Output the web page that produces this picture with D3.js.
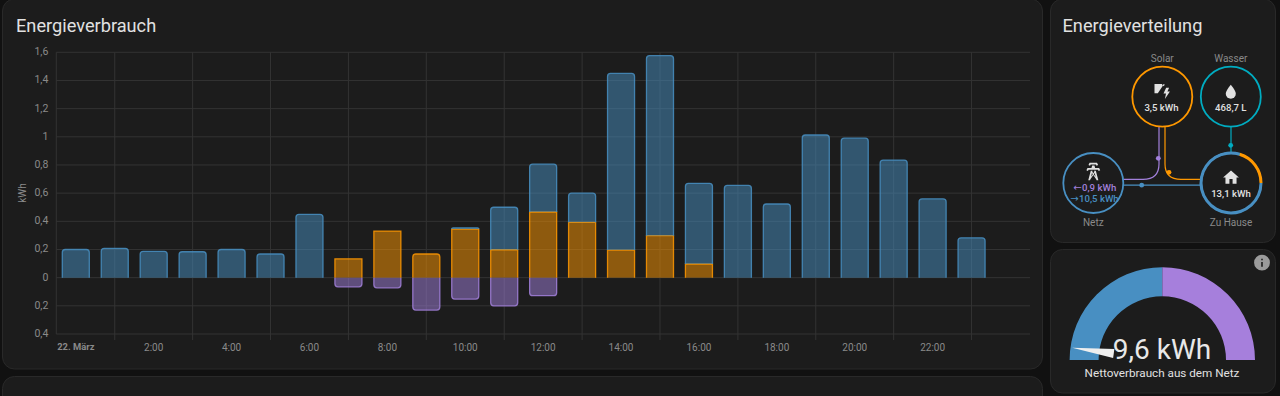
<!DOCTYPE html>
<html>
<head>
<meta charset="utf-8">
<script src="https://cdn.jsdelivr.net/npm/d3@7"></script>
<style>
html, body { margin: 0; padding: 0; background: #111; overflow: hidden; }
svg { display: block; }
text { font-family: Roboto, sans-serif; }
</style>
</head>
<body>
<div id="chart"></div>
<script>
// hours of the day, one bar each (24 is the empty slot at the right edge)
var hours = d3.range(0, 25);
var hourLabels = ["22. März", "2:00", "4:00", "6:00", "8:00", "10:00", "12:00", "14:00", "16:00", "18:00", "20:00", "22:00"];

// kWh per hour
var solar = [0, 0, 0, 0, 0, 0, 0, 0.134, 0.331, 0.168, 0.345, 0.198, 0.466, 0.393, 0.196, 0.298, 0.097, 0, 0, 0, 0, 0, 0, 0];
var grid = [0.2, 0.208, 0.187, 0.184, 0.2, 0.168, 0.45, 0, 0, 0, 0.009, 0.302, 0.34, 0.207, 1.254, 1.278, 0.573, 0.655, 0.523, 1.013, 0.99, 0.835, 0.56, 0.283];
var returned = [0, 0, 0, 0, 0, 0, 0, 0.065, 0.072, 0.23, 0.152, 0.2, 0.128, 0, 0, 0, 0, 0, 0, 0, 0, 0, 0, 0];

// these two solar bars have square tops in the picture
var squareTopHours = [7, 8];

var yTicks = [1.6, 1.4, 1.2, 1, 0.8, 0.6, 0.4, 0.2, 0, -0.2, -0.4];

// gauge
var gaugeStops = [10.5, 0, -10.5];
var gaugeValue = 9.6;

var colors = {
    page: "#111111",
    card: "#1c1c1c",
    cardBorder: "#292929",
    grid: "#333333",
    tick: "#8a8a8a",
    title: "#e1e1e1",
    blue: "#488fc2",
    orange: "#ff9800",
    purple: "#a280db",
    teal: "#00acc1"
};

var svg = d3.select("#chart").append("svg")
    .attr("width", 1280)
    .attr("height", 396);

// cards
var cards = [
    { x: 2.5, y: -1, w: 1040, h: 370 },
    { x: 2.5, y: 376.5, w: 1040, h: 60 },
    { x: 1050.5, y: -1, w: 225, h: 243.5 },
    { x: 1050.5, y: 249.5, w: 225, h: 143.5 }
];

svg.append("g").selectAll("rect")
    .data(cards)
    .enter()
    .append("rect")
    .attr("x", function (d) { return d.x; })
    .attr("y", function (d) { return d.y; })
    .attr("width", function (d) { return d.w; })
    .attr("height", function (d) { return d.h; })
    .attr("rx", 12)
    .attr("fill", colors.card)
    .attr("stroke", colors.cardBorder);

svg.append("text")
    .attr("x", 16)
    .attr("y", 32)
    .attr("font-size", 18.2)
    .attr("fill", colors.title)
    .text("Energieverbrauch");

// scales
var scaleX = d3.scaleBand().domain(hours).range([56.3, 1030]).paddingInner(0.273).paddingOuter(0.137);
var scaleY = d3.scaleLinear().domain([-0.4, 1.6]).range([334, 52.3]);

// grid lines
var plot = svg.append("g");

plot.append("g").selectAll("line")
    .data(yTicks)
    .enter()
    .append("line")
    .attr("x1", scaleX.range()[0])
    .attr("x2", scaleX.range()[1])
    .attr("y1", function (d) { return scaleY(d); })
    .attr("y2", function (d) { return scaleY(d); })
    .attr("stroke", colors.grid);

// vertical lines sit on the odd hours
var oddHours = hours.filter(function (d) { return d % 2 === 1 && d < 24; });

plot.append("g").selectAll("line")
    .data(oddHours)
    .enter()
    .append("line")
    .attr("x1", function (d) { return scaleX(d) + scaleX.bandwidth() / 2; })
    .attr("x2", function (d) { return scaleX(d) + scaleX.bandwidth() / 2; })
    .attr("y1", scaleY(1.6))
    .attr("y2", 340)
    .attr("stroke", colors.grid);

plot.append("line")
    .attr("x1", scaleX.range()[0])
    .attr("x2", scaleX.range()[0])
    .attr("y1", scaleY(1.6))
    .attr("y2", scaleY(-0.4))
    .attr("stroke", colors.grid);

// axes
var axisY = d3.axisLeft(scaleY)
    .tickValues(yTicks)
    .tickSize(0)
    .tickPadding(8)
    .tickFormat(function (d) { return String(Math.abs(d)).replace(".", ","); });

var axisX = d3.axisBottom(scaleX)
    .tickValues(hours.filter(function (d) { return d % 2 === 0 && d < 24; }))
    .tickSize(0)
    .tickPadding(9.5)
    .tickFormat(function (d) { return hourLabels[d / 2]; });

var gY = svg.append("g").attr("transform", "translate(" + scaleX.range()[0] + ",-1)").call(axisY);
var gX = svg.append("g").attr("transform", "translate(0," + scaleY(-0.4) + ")").call(axisX);

gY.select(".domain").remove();
gX.select(".domain").remove();

svg.selectAll(".tick text")
    .attr("font-family", "Roboto, sans-serif")
    .attr("fill", colors.tick);

gY.selectAll(".tick text").attr("font-size", 10.5);

gX.selectAll(".tick text")
    .attr("font-size", function (d) { return d === 0 ? 9.4 : 10; })
    .attr("font-weight", function (d) { return d === 0 ? 700 : 400; });

svg.append("text")
    .attr("transform", "translate(26,193) rotate(-90)")
    .attr("text-anchor", "middle")
    .attr("font-size", 10)
    .attr("fill", colors.tick)
    .text("kWh");

// bar shape: square at the base, rounded at the far end, no line along the base
function barPath(x, w, base, end, rounded) {
    var p = d3.path();
    var inset = 0.65;
    var dir = end < base ? 1 : -1;
    var r = rounded ? Math.min(3, Math.abs(base - end)) : 0;
    var left = x + inset;
    var right = x + w - inset;
    p.moveTo(left, base);
    p.lineTo(left, end + dir * r);
    if (r > 0) p.quadraticCurveTo(left, end, left + r, end);
    p.lineTo(right - r, end);
    if (r > 0) p.quadraticCurveTo(right, end, right, end + dir * r);
    p.lineTo(right, base);
    return p.toString();
}

// stacked bars
var table = hours.slice(0, 24).map(function (h, i) {
    return { hour: h, solar: solar[i], grid: grid[i] };
});

var stacked = d3.stack().keys(["solar", "grid"])(table);
var stackColors = { solar: colors.orange, grid: colors.blue };

stacked.forEach(function (layer) {
    plot.append("g").selectAll("path")
        .data(layer.filter(function (d) { return d[1] > d[0]; }))
        .enter()
        .append("path")
        .attr("d", function (d) {
            var isTop = d[1] === d.data.solar + d.data.grid && squareTopHours.indexOf(d.data.hour) < 0;
            return barPath(scaleX(d.data.hour), scaleX.bandwidth(), scaleY(d[0]), scaleY(d[1]), isTop);
        })
        .attr("fill", stackColors[layer.key])
        .attr("fill-opacity", 0.5)
        .attr("stroke", stackColors[layer.key])
        .attr("stroke-opacity", 0.85)
        .attr("stroke-width", 1.3);
});

plot.append("g").selectAll("path")
    .data(returned.filter(function (d) { return d > 0; }))
    .enter()
    .append("path")
    .attr("d", function (d) {
        var h = returned.indexOf(d);
        return barPath(scaleX(h), scaleX.bandwidth(), scaleY(0), scaleY(-d), true);
    })
    .attr("fill", colors.purple)
    .attr("fill-opacity", 0.5)
    .attr("stroke", colors.purple)
    .attr("stroke-opacity", 0.85)
    .attr("stroke-width", 1.3);

// energy distribution
svg.append("text")
    .attr("x", 1062.5)
    .attr("y", 32)
    .attr("font-size", 18.2)
    .attr("fill", colors.title)
    .text("Energieverteilung");

var nodes = [
    { name: "Solar", x: 1162.3, y: 96.7, color: colors.orange, labelY: 62 },
    { name: "Wasser", x: 1230.8, y: 96.7, color: colors.teal, labelY: 62 },
    { name: "Netz", x: 1093.3, y: 183, color: colors.blue, labelY: 226 },
    { name: "Zu Hause", x: 1231, y: 183, color: colors.blue, labelY: 226 }
];
var ringRadius = 30;

var flows = [
    { color: colors.purple, d: "M1159,127V164Q1159,179.3 1143,179.3H1123", dot: [1158.3, 158.3] },
    { color: colors.orange, d: "M1165,127V164Q1165,179.3 1181,179.3H1201", dot: [1169, 172.3] },
    { color: colors.blue, d: "M1123,185.2H1201", dot: [1141.7, 185.2] },
    { color: colors.teal, d: "M1231,127V153", dot: [1230.7, 145.3] }
];

var flowGroup = svg.append("g");

flowGroup.selectAll("path")
    .data(flows)
    .enter()
    .append("path")
    .attr("d", function (d) { return d.d; })
    .attr("fill", "none")
    .attr("stroke", function (d) { return d.color; })
    .attr("stroke-width", 1.2);

flowGroup.selectAll("circle")
    .data(flows)
    .enter()
    .append("circle")
    .attr("cx", function (d) { return d.dot[0]; })
    .attr("cy", function (d) { return d.dot[1]; })
    .attr("r", 2.4)
    .attr("fill", function (d) { return d.color; });

var nodeGroup = svg.append("g");

nodeGroup.selectAll("circle")
    .data(nodes)
    .enter()
    .append("circle")
    .attr("cx", function (d) { return d.x; })
    .attr("cy", function (d) { return d.y; })
    .attr("r", ringRadius)
    .attr("fill", colors.card)
    .attr("stroke", function (d) { return d.color; })
    .attr("stroke-width", 1.8);

nodeGroup.selectAll("text")
    .data(nodes)
    .enter()
    .append("text")
    .attr("x", function (d) { return d.x; })
    .attr("y", function (d) { return d.labelY; })
    .attr("text-anchor", "middle")
    .attr("font-size", 10)
    .attr("fill", colors.tick)
    .text(function (d) { return d.name; });

// home ring is split by where the energy came from
var homeShares = [{ color: colors.orange, from: 16.6, to: 90 }, { color: colors.blue, from: 90, to: 376.6 }];
var homeArc = d3.arc().innerRadius(ringRadius - 1.5).outerRadius(ringRadius + 1.5);

svg.append("g")
    .attr("transform", "translate(1231,183)")
    .selectAll("path")
    .data(homeShares)
    .enter()
    .append("path")
    .attr("d", function (d) {
        return homeArc({ startAngle: d.from * Math.PI / 180, endAngle: d.to * Math.PI / 180 });
    })
    .attr("fill", function (d) { return d.color; });

var icons = {
    home: "M10,20V14H14V20H19V12H22L12,3L2,12H5V20H10Z",
    water: "M12,20A6,6 0 0,1 6,14C6,10 12,3.25 12,3.25C12,3.25 18,10 18,14A6,6 0 0,1 12,20Z",
    tower: "M8.28,5.45L6.5,4.55L7.76,2H16.23L17.5,4.55L15.72,5.44L15,4H9L8.28,5.45M18.62,8H14.09L13.3,5H10.7L9.91,8H5.38L4.1,10.55L5.89,11.44L6.62,10H17.38L18.1,11.45L19.89,10.56L18.62,8M17.77,22H15.7L15.46,21.1L12,15.9L8.53,21.1L8.3,22H6.23L9.12,11H11.19L10.83,12.35L12,14.1L13.16,12.35L12.81,11H14.88L17.77,22M11.4,15L10.5,13.65L9.32,18.13L11.4,15M14.68,18.12L13.5,13.64L12.6,15L14.68,18.12Z",
    solar: "M3,3H12L13,5L7,14H3Z M13.8,3L15.3,3.6L14.2,5.6L13,4.9Z M17,7.5H20.5L18.5,12H21.5L15.5,21L16.8,14.5H13.8Z",
    info: "M13,9H11V7H13M13,17H11V11H13M12,2A10,10 0 0,0 2,12A10,10 0 0,0 12,22A10,10 0 0,0 22,12A10,10 0 0,0 12,2Z"
};

var iconSpots = [
    { icon: "solar", x: 1162, y: 91.5, size: 20, color: "#e1e1e1" },
    { icon: "water", x: 1230.8, y: 92, size: 20, color: "#e1e1e1" },
    { icon: "tower", x: 1093.3, y: 171.5, size: 21, color: "#e1e1e1" },
    { icon: "home", x: 1231, y: 177.5, size: 19, color: "#e1e1e1" },
    { icon: "info", x: 1262, y: 262.7, size: 19, color: "#9b9b9b" }
];

svg.append("g").selectAll("path")
    .data(iconSpots)
    .enter()
    .append("path")
    .attr("d", function (d) { return icons[d.icon]; })
    .attr("transform", function (d) {
        return "translate(" + (d.x - d.size / 2) + "," + (d.y - d.size / 2) + ") scale(" + d.size / 24 + ")";
    })
    .attr("fill", function (d) { return d.color; })
    .attr("fill-rule", "evenodd");

var nodeValues = [
    { text: "3,5 kWh", x: 1161.5, y: 111, color: "#e1e1e1", anchor: "middle" },
    { text: "468,7 L", x: 1230.8, y: 111, color: "#e1e1e1", anchor: "middle" },
    { text: "13,1 kWh", x: 1231, y: 197, color: "#e1e1e1", anchor: "middle" },
    { text: "0,9 kWh", x: 1082, y: 190.5, color: colors.purple, anchor: "start" },
    { text: "10,5 kWh", x: 1079, y: 201.5, color: colors.blue, anchor: "start" },
    { text: "←", x: 1077.5, y: 190.5, color: colors.purple, anchor: "middle", arrow: true },
    { text: "→", x: 1074.5, y: 201.5, color: colors.blue, anchor: "middle", arrow: true }
];

svg.append("g").selectAll("text")
    .data(nodeValues)
    .enter()
    .append("text")
    .attr("x", function (d) { return d.x; })
    .attr("y", function (d) { return d.y; })
    .attr("text-anchor", function (d) { return d.anchor; })
    .attr("font-size", function (d) { return d.arrow ? 10 : 9.6; })
    .attr("font-weight", function (d) { return d.arrow ? 400 : 500; })
    .style("font-family", function (d) { return d.arrow ? "'DejaVu Sans'" : null; })
    .attr("fill", function (d) { return d.color; })
    .text(function (d) { return d.text; });

// gauge
var gaugeCenter = { x: 1162.3, y: 360 };
var gaugeOuter = 92.7;
var gaugeInner = 63.7;
var angle = d3.scaleLinear().domain([gaugeStops[0], gaugeStops[2]]).range([-Math.PI / 2, Math.PI / 2]);
var gaugeArc = d3.arc().innerRadius(gaugeInner).outerRadius(gaugeOuter);

var gauge = svg.append("g").attr("transform", "translate(" + gaugeCenter.x + "," + gaugeCenter.y + ")");

gauge.selectAll("path")
    .data([
        { from: gaugeStops[0], to: gaugeStops[1], color: colors.blue },
        { from: gaugeStops[1], to: gaugeStops[2], color: "#a67fdc" }
    ])
    .enter()
    .append("path")
    .attr("d", function (d) {
        return gaugeArc({ startAngle: angle(d.from), endAngle: angle(d.to) });
    })
    .attr("fill", function (d) { return d.color; });

// needle is drawn pointing up, then turned to the value
gauge.append("path")
    .attr("d", "M0,-91L4.5,-49L-4.5,-49Z")
    .attr("transform", "rotate(" + angle(gaugeValue) * 180 / Math.PI + ")")
    .attr("fill", "#eeeeee");

svg.append("text")
    .attr("x", 1162)
    .attr("y", 359)
    .attr("text-anchor", "middle")
    .attr("font-size", 28)
    .attr("fill", "#e8e8e8")
    .text("9,6 kWh");

svg.append("text")
    .attr("x", 1162)
    .attr("y", 377)
    .attr("text-anchor", "middle")
    .attr("font-size", 11.7)
    .attr("font-weight", 400)
    .attr("fill", "#e1e1e1")
    .text("Nettoverbrauch aus dem Netz");
</script>
</body>
</html>
